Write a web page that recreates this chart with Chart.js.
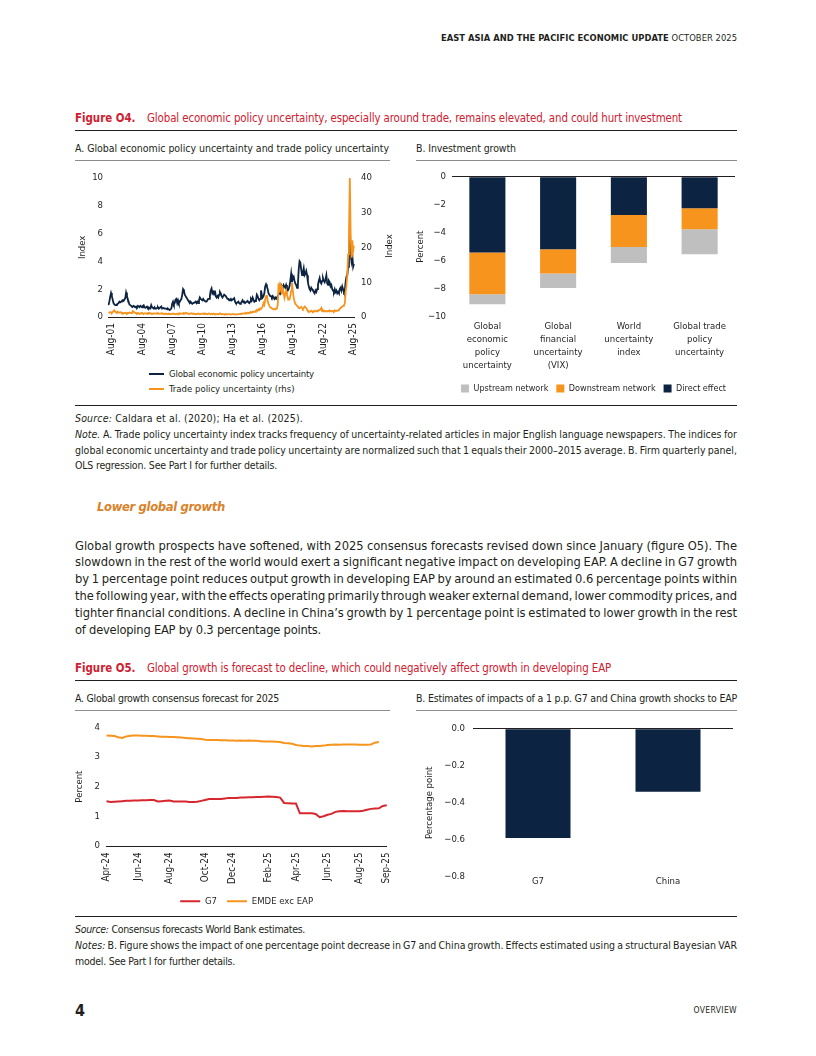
<!DOCTYPE html>
<html><head><meta charset="utf-8">
<script src="https://cdn.jsdelivr.net/npm/chart.js@4.4.1/dist/chart.umd.min.js"></script>
<style>
html,body{margin:0;padding:0;background:#fff;}
body{width:816px;height:1056px;position:relative;overflow:hidden;font-family:'DejaVu Sans Condensed','Liberation Sans',sans-serif;color:#231f20;}
.t{position:absolute;white-space:nowrap;}
.rule{position:absolute;left:75px;width:662px;height:1px;background:#231f20;}
.prule{position:absolute;height:1.5px;background:#8c8c8c;}
.red{color:#cf2030;}
.ft{font-size:11.4px;line-height:14px;}
.pt{font-size:10.5px;line-height:13px;}
.nt{font-size:10.5px;line-height:13px;}
.jl{position:absolute;left:75px;white-space:nowrap;}
.para{font-size:12.8px;line-height:16px;}
canvas{position:absolute;}
.lg{position:absolute;height:2px;width:15px;}
</style></head>
<body>
<div class="t" style="right:79px;top:32px;font-size:9.3px;line-height:12px;" data-w="296"><b>EAST ASIA AND THE PACIFIC ECONOMIC UPDATE</b> OCTOBER 2025</div>

<div class="t red ft" style="left:75px;top:111px;"><b>Figure O4.</b></div>
<div class="t red ft" style="left:147px;top:111px;" data-w="535">Global economic policy uncertainty, especially around trade, remains elevated, and could hurt investment</div>
<div class="rule" style="top:130px;"></div>
<div class="t pt" style="left:75px;top:141.5px;" data-w="314">A. Global economic policy uncertainty and trade policy uncertainty</div>
<div class="t pt" style="left:416px;top:141.5px;" data-w="100">B. Investment growth</div>
<div class="prule" style="left:75px;width:315px;top:159.5px;"></div>
<div class="prule" style="left:416px;width:321px;top:159.5px;"></div>

<canvas id="c1" width="330" height="195" style="left:75px;top:165px;"></canvas>
<div class="t" style="left:388px;top:246px;font-size:9.5px;line-height:11px;transform:translate(-50%,-50%) rotate(-90deg);">Index</div>
<div class="lg" style="left:149px;top:373px;background:#0c2341;"></div>
<div class="t" style="left:169px;top:368px;font-size:9.5px;line-height:12px;" data-w="145">Global economic policy uncertainty</div>
<div class="lg" style="left:149px;top:388px;background:#f7941d;"></div>
<div class="t" style="left:169px;top:383px;font-size:9.5px;line-height:12px;">Trade policy uncertainty (rhs)</div>

<canvas id="c2" width="335" height="238" style="left:405px;top:165px;"></canvas>

<div class="rule" style="top:405px;"></div>
<div class="t nt" style="left:75px;top:411.5px;" data-w="228"><i>Source:</i> Caldara et al. (2020); Ha et al. (2025).</div>
<div class="jl nt" style="top:427.5px;"><i>Note.</i> A. Trade policy uncertainty index tracks frequency of uncertainty-related articles in major English language newspapers. The indices for</div>
<div class="jl nt" style="top:443.5px;">global economic uncertainty and trade policy uncertainty are normalized such that 1 equals their 2000–2015 average. B. Firm quarterly panel,</div>
<div class="t nt" style="left:75px;top:459px;" data-w="202">OLS regression. See Part I for further details.</div>

<div class="t" style="left:97px;top:499px;font-size:12.9px;line-height:16px;font-weight:bold;font-style:italic;color:#d9822b;" data-w="124">Lower global growth</div>

<div class="jl para" style="top:537.5px;">Global growth prospects have softened, with 2025 consensus forecasts revised down since January (figure O5). The</div>
<div class="jl para" style="top:554px;">slowdown in the rest of the world would exert a significant negative impact on developing EAP. A decline in G7 growth</div>
<div class="jl para" style="top:571px;">by 1 percentage point reduces output growth in developing EAP by around an estimated 0.6 percentage points within</div>
<div class="jl para" style="top:588px;">the following year, with the effects operating primarily through weaker external demand, lower commodity prices, and</div>
<div class="jl para" style="top:605px;">tighter financial conditions. A decline in China’s growth by 1 percentage point is estimated to lower growth in the rest</div>
<div class="t para" style="left:75px;top:622px;" data-w="246">of developing EAP by 0.3 percentage points.</div>

<div class="t red ft" style="left:75px;top:661px;"><b>Figure O5.</b></div>
<div class="t red ft" style="left:147px;top:661px;" data-w="464">Global growth is forecast to decline, which could negatively affect growth in developing EAP</div>
<div class="rule" style="top:680px;"></div>
<div class="t pt" style="left:75px;top:691.5px;" data-w="204">A. Global growth consensus forecast for 2025</div>
<div class="t pt" style="left:416px;top:691.5px;" data-w="321">B. Estimates of impacts of a 1 p.p. G7 and China growth shocks to EAP</div>
<div class="prule" style="left:75px;width:315px;top:709.5px;"></div>
<div class="prule" style="left:416px;width:321px;top:709.5px;"></div>

<canvas id="c3" width="333" height="201" style="left:72px;top:715px;"></canvas>
<canvas id="c4" width="335" height="180" style="left:405px;top:715px;"></canvas>

<div class="rule" style="top:916px;"></div>
<div class="t nt" style="left:75px;top:922.5px;" data-w="230"><i>Source:</i> Consensus forecasts World Bank estimates.</div>
<div class="jl nt" style="top:938.5px;"><i>Notes:</i> B. Figure shows the impact of one percentage point decrease in G7 and China growth. Effects estimated using a structural Bayesian VAR</div>
<div class="t nt" style="left:75px;top:954.5px;" data-w="160">model. See Part I for further details.</div>

<div class="t" style="left:75px;top:1002px;font-size:16px;line-height:18px;font-weight:bold;">4</div>
<div class="t" style="right:79px;top:1004px;font-size:8.5px;line-height:12px;" data-w="44">OVERVIEW</div>

<script>
// ---------- Figure O4.A: monthly indices, Apr-2001 .. Sep-2025 ----------
const uncertaintyStart = { year: 2001, month: 4 };
const gepu = [
  0.85,1.1,1.45,1.72,1.5,1.25,1.0,0.9,0.85,
  0.85,0.9,0.95,1.0,1.1,1.05,1.1,1.15,1.2,1.15,1.25,1.35,
  1.75,1.5,1.3,1.1,0.9,0.85,0.8,0.75,0.75,0.8,0.75,0.7,
  0.75,0.7,0.8,0.75,0.7,0.8,0.75,0.7,0.8,0.85,0.7,0.65,
  0.7,0.75,0.65,0.7,0.6,0.6,0.85,0.7,0.65,0.6,0.7,0.6,
  0.6,0.65,0.7,0.6,0.65,0.7,0.75,0.6,0.6,0.65,0.6,0.6,
  0.6,0.55,0.6,0.55,0.5,0.55,0.6,0.95,1.1,0.9,1.0,1.25,
  1.3,1.0,1.2,1.0,1.1,1.2,1.3,1.6,2.0,1.9,1.6,1.5,
  1.4,1.3,1.2,1.1,1.0,1.1,1.0,0.95,1.0,1.0,1.05,1.1,
  1.0,1.1,1.0,1.2,1.4,1.3,1.25,1.2,1.3,1.2,1.2,1.1,
  1.1,1.2,1.3,1.3,1.5,1.9,2.05,1.7,1.8,1.6,1.9,1.5,
  1.4,1.5,1.4,1.6,1.8,1.7,1.5,1.4,1.5,1.6,1.6,1.5,
  1.4,1.3,1.3,1.2,1.25,1.3,1.2,1.25,1.3,1.35,1.1,1.0,
  1.0,1.05,1.1,1.0,0.95,1.0,1.1,1.2,1.05,1.1,1.0,1.0,
  1.1,1.15,1.05,1.0,1.1,1.3,1.2,1.4,1.25,1.1,1.15,1.2,
  1.6,1.5,1.3,1.2,1.3,1.9,1.6,1.4,1.5,1.7,2.2,2.35,
  2.2,2.0,1.7,1.6,1.5,1.5,1.4,1.5,1.4,1.3,1.4,1.3,
  1.4,1.5,1.6,1.8,1.7,2.0,2.2,2.1,2.3,2.2,2.1,2.3,
  2.1,1.9,2.0,2.2,2.6,3.1,2.5,2.8,2.9,2.6,2.4,2.3,
  2.1,2.3,3.4,4.0,3.9,3.4,3.0,3.2,3.5,3.0,3.1,3.3,
  3.0,2.5,2.2,2.0,1.9,2.1,2.0,1.9,1.8,1.7,1.9,1.8,
  2.0,2.3,2.6,2.8,2.5,2.4,2.6,2.8,2.6,2.5,2.7,3.0,
  2.4,2.3,2.6,2.5,2.2,2.3,2.0,1.9,1.8,2.0,1.8,1.9,
  1.7,1.8,1.7,2.0,2.1,1.9,2.2,2.0,1.8,1.9,2.5,2.9,
  3.0,3.6,4.6,5.9,4.5,4.0,4.4,3.6,3.8
];
const tpu = [
  1.3,1.2,1.4,1.3,1.2,1.5,1.6,1.9,1.5,
  1.4,1.3,1.5,1.3,1.2,1.4,1.3,1.1,1.2,1.0,1.1,1.2,
  1.1,1.0,1.2,1.1,1.3,1.2,1.1,1.2,1.7,1.5,1.3,1.2,
  1.1,1.0,1.2,1.0,0.9,1.1,1.0,1.2,1.0,0.9,1.0,1.1,
  1.0,0.9,1.1,1.2,1.0,1.1,0.9,1.0,1.0,0.9,1.1,1.0,
  0.9,1.0,1.1,1.0,0.9,1.0,1.1,0.9,1.0,0.9,0.8,1.0,
  0.9,0.8,0.9,1.0,0.8,0.9,0.8,0.9,1.0,0.9,0.8,0.9,
  0.8,0.9,1.0,0.9,1.1,1.0,0.9,1.0,0.9,1.1,1.0,1.2,
  1.1,1.0,1.0,0.9,0.9,1.0,1.1,0.9,1.0,0.9,0.8,0.9,
  0.8,0.9,1.0,0.9,0.8,0.9,0.9,1.0,0.9,0.8,1.0,0.9,
  0.9,0.8,0.9,1.0,0.9,0.8,0.9,0.8,1.0,0.9,0.8,0.9,
  0.8,0.9,0.8,0.9,1.0,0.9,0.8,0.9,0.8,0.7,0.8,0.9,
  0.8,0.7,0.8,0.9,0.8,0.7,0.8,0.9,0.8,0.7,0.8,0.8,
  0.7,0.8,0.9,0.8,0.8,0.9,1.0,0.9,1.0,1.1,1.0,1.1,
  1.0,1.2,1.1,1.3,1.2,1.4,1.3,1.5,1.4,1.6,1.5,1.8,
  2.0,1.8,2.2,2.0,2.5,2.4,2.6,3.0,4.0,3.5,5.0,6.0,
  6.3,4.5,3.8,3.2,2.8,2.6,2.5,2.3,2.2,2.3,2.2,2.4,
  2.5,3.5,9.7,7.0,9.5,9.0,6.5,8.0,7.0,5.5,6.5,7.5,
  6.5,5.5,5.0,5.0,6.0,7.5,9.8,7.5,5.5,4.5,3.8,3.5,
  3.2,3.0,2.6,2.5,2.7,2.9,2.6,2.3,2.6,3.0,2.8,2.6,
  2.0,1.7,1.6,1.5,1.6,1.8,1.6,1.5,1.7,1.6,1.8,1.7,
  1.6,1.9,2.0,2.0,2.2,2.6,1.7,1.9,1.6,1.8,1.7,1.6,
  1.7,1.6,1.8,1.9,1.7,1.6,1.8,1.7,1.6,1.9,1.7,1.8,
  1.8,1.9,2.1,2.3,2.6,2.8,3.0,3.2,3.4,3.8,7.0,9.0,
  12,18,24,40,24,17,22,19,20.5
];
const uncertaintyTicks = ['Aug-01','Aug-04','Aug-07','Aug-10','Aug-13','Aug-16','Aug-19','Aug-22','Aug-25'];

// ---------- Figure O4.B: investment growth ----------
const investCategories = [['Global','economic','policy','uncertainty'],['Global','financial','uncertainty','(VIX)'],['World','uncertainty','index'],['Global trade','policy','uncertainty']];
const directEffect = [-5.42,-5.19,-2.74,-2.26];
const downstreamNetwork = [-2.98,-1.74,-2.28,-1.49];
const upstreamNetwork = [-0.73,-1.04,-1.16,-1.79];

// ---------- Figure O5.A: consensus forecast for 2025 (weekly) ----------
const growthTickLabels = ['Apr-24','Jun-24','Aug-24','Oct-24','Dec-24','Feb-25','Apr-25','Jun-25','Aug-25','Sep-25'];
const growthTickIndex = [0,8,16,25,32,41,48,56,64,71];
const g7Forecast = [
  1.51,1.48,1.49,1.50,1.51,1.52,1.52,1.53,1.53,1.54,1.54,1.55,1.55,
  1.50,1.51,1.52,1.53,1.50,1.50,1.50,1.50,1.48,1.48,1.49,1.52,1.55,
  1.58,1.58,1.58,1.58,1.60,1.62,1.62,1.62,1.63,1.63,1.64,1.64,1.65,
  1.65,1.66,1.67,1.66,1.65,1.63,1.45,1.44,1.43,1.43,
  1.10,1.10,1.10,1.10,1.08,0.97,1.00,1.05,1.08,1.15,1.17,1.18,
  1.17,1.17,1.17,1.17,1.19,1.22,1.25,1.26,1.27,1.35,1.37
];
const emdeForecast = [
  3.72,3.71,3.70,3.66,3.64,3.69,3.71,3.72,3.72,3.71,
  3.71,3.70,3.70,3.69,3.68,3.68,3.67,3.67,3.66,3.65,
  3.64,3.63,3.62,3.61,3.60,3.58,3.57,3.57,3.57,3.56,
  3.56,3.55,3.55,3.54,3.55,3.54,3.55,3.54,3.54,3.53,
  3.52,3.52,3.52,3.51,3.50,3.47,3.46,3.44,3.40,3.38,
  3.37,3.37,3.35,3.37,3.37,3.38,3.40,3.41,3.42,3.41,
  3.42,3.42,3.42,3.42,3.41,3.41,3.41,3.42,3.48,3.50,
  null,null
];

// ---------- Figure O5.B: shock impacts ----------
const shockCategories = ['G7','China'];
const shockImpact = [-0.59,-0.34];

// ---------- styling ----------
const NAVY = '#0c2341', ORANGE = '#f7941d', GREY = '#bfbfbf', RED = '#d7262e', INK = '#231f20';
Chart.defaults.font.family = "'DejaVu Sans Condensed','Liberation Sans',sans-serif";
Chart.defaults.font.size = 9.5;
Chart.defaults.color = INK;

const monthNames = ['Jan','Feb','Mar','Apr','May','Jun','Jul','Aug','Sep','Oct','Nov','Dec'];
const uncertaintyMonths = gepu.map((_, i) => {
  const m = uncertaintyStart.month - 1 + i;
  const y = uncertaintyStart.year + Math.floor(m / 12);
  return monthNames[m % 12] + '-' + String(y % 100).padStart(2, '0');
});
const growthLabels = g7Forecast.map((_, i) => {
  const k = growthTickIndex.indexOf(i);
  return k >= 0 ? growthTickLabels[k] : '';
});
const minus = (v, d) => (Math.abs(v) < 1e-9 ? (0).toFixed(d) : '\u2212' + Math.abs(v).toFixed(d));
const zeroLine = c => (c.tick && Math.abs(c.tick.value) < 1e-9 ? INK : 'rgba(0,0,0,0)');
const base = { responsive: false, animation: false, events: [] };

// O4.A
new Chart(document.getElementById('c1'), {
  type: 'line',
  data: {
    labels: uncertaintyMonths,
    datasets: [
      { label: 'Global economic policy uncertainty', data: gepu, yAxisID: 'y', borderColor: NAVY, borderWidth: 1.8, pointRadius: 0, tension: 0, order: 1 },
      { label: 'Trade policy uncertainty (rhs)', data: tpu, yAxisID: 'y2', borderColor: ORANGE, borderWidth: 1.8, pointRadius: 0, tension: 0, order: 0 }
    ]
  },
  options: Object.assign({}, base, {
    layout: { padding: { top: 10, right: 0, left: 0, bottom: 0 } },
    plugins: { legend: { display: false }, tooltip: { enabled: false } },
    scales: {
      x: {
        grid: { display: false, drawTicks: false }, border: { display: true, color: INK, width: 1 },
        ticks: { autoSkip: false, maxRotation: 90, minRotation: 90, padding: 6, font: { size: 10 },
          callback(v) { const l = this.getLabelForValue(v); return uncertaintyTicks.includes(l) ? l : null; } },
        afterFit: s => { s.height = 43; }
      },
      y: {
        position: 'left', min: 0, max: 10,
        ticks: { stepSize: 2, padding: 5.5 }, grid: { display: false, drawTicks: false }, border: { display: false },
        title: { display: true, text: 'Index', font: { size: 9.5 }, padding: { top: 2.3, bottom: 0 } },
        afterFit: s => { s.width = 33.5; }
      },
      y2: {
        position: 'right', min: 0, max: 40,
        ticks: { stepSize: 10, padding: 7 }, grid: { display: false, drawTicks: false }, border: { display: false },
        afterFit: s => { s.width = 51; }
      }
    }
  })
});

// O4.B
new Chart(document.getElementById('c2'), {
  type: 'bar',
  data: {
    labels: investCategories,
    datasets: [
      { label: 'Direct effect', data: directEffect, backgroundColor: NAVY },
      { label: 'Downstream network', data: downstreamNetwork, backgroundColor: ORANGE },
      { label: 'Upstream network', data: upstreamNetwork, backgroundColor: GREY }
    ]
  },
  options: Object.assign({}, base, {
    layout: { padding: { top: 9.5, right: 5, left: 0, bottom: 0 } },
    datasets: { bar: { barPercentage: 0.51, categoryPercentage: 1, borderWidth: 0 } },
    plugins: {
      tooltip: { enabled: false },
      legend: { position: 'bottom', fullSize: false, reverse: true,
        labels: { boxWidth: 8, boxHeight: 8, padding: 8, font: { size: 9 }, color: INK } }
    },
    scales: {
      x: {
        stacked: true, grid: { display: false, drawTicks: false }, border: { display: false },
        ticks: { padding: 4, maxRotation: 0, autoSkip: false, font: { size: 9.5, lineHeight: 1.34 } },
        afterFit: s => { s.height = 59.5; }
      },
      y: {
        stacked: true, min: -10, max: 0,
        ticks: { stepSize: 2, padding: 6, callback: v => minus(v, 0) },
        grid: { drawTicks: false, color: zeroLine, lineWidth: 1 }, border: { display: false },
        title: { display: true, text: 'Percent', font: { size: 9.5 }, padding: { top: 10.3, bottom: 0 } },
        afterFit: s => { s.width = 47; }
      }
    }
  })
});

// O5.A
new Chart(document.getElementById('c3'), {
  type: 'line',
  data: {
    labels: growthLabels,
    datasets: [
      { label: 'G7', data: g7Forecast, borderColor: RED, backgroundColor: RED, borderWidth: 2, pointRadius: 0, tension: 0 },
      { label: 'EMDE exc EAP', data: emdeForecast, borderColor: ORANGE, backgroundColor: ORANGE, borderWidth: 2, pointRadius: 0, tension: 0 }
    ]
  },
  options: Object.assign({}, base, {
    layout: { padding: { top: 11, right: 18, left: 0, bottom: 0 } },
    plugins: {
      tooltip: { enabled: false },
      legend: { position: 'bottom', fullSize: false,
        labels: { usePointStyle: true, pointStyle: 'line', pointStyleWidth: 20, padding: 10, font: { size: 9.5 }, color: INK } }
    },
    scales: {
      x: {
        grid: { display: false, drawTicks: false }, border: { display: true, color: INK, width: 1 },
        ticks: { autoSkip: false, maxRotation: 90, minRotation: 90, padding: 6.5, font: { size: 9.8 },
          callback(v) { const l = this.getLabelForValue(v); return l ? l : null; } },
        afterFit: s => { s.height = 40.5; }
      },
      y: {
        min: 0, max: 4,
        ticks: { stepSize: 1, padding: 6.5 }, grid: { display: false, drawTicks: false }, border: { display: false },
        title: { display: true, text: 'Percent', font: { size: 9.5 }, padding: { top: 2.3, bottom: 0 } },
        afterFit: s => { s.width = 34.5; }
      }
    }
  })
});

// O5.B
new Chart(document.getElementById('c4'), {
  type: 'bar',
  data: {
    labels: shockCategories,
    datasets: [{ label: 'Impact on developing EAP', data: shockImpact, backgroundColor: NAVY, barPercentage: 0.5, categoryPercentage: 1, borderWidth: 0 }]
  },
  options: Object.assign({}, base, {
    layout: { padding: { top: 9, right: 7, left: 0, bottom: 0 } },
    plugins: { legend: { display: false }, tooltip: { enabled: false } },
    scales: {
      x: {
        grid: { display: false, drawTicks: false }, border: { display: false },
        ticks: { padding: -0.7 },
        afterFit: s => { s.height = 18; }
      },
      y: {
        min: -0.8, max: 0,
        ticks: { stepSize: 0.2, padding: 8, callback: v => minus(v, 1) },
        grid: { drawTicks: false, color: zeroLine, lineWidth: 1 }, border: { display: false },
        title: { display: true, text: 'Percentage point', font: { size: 9.5 }, padding: { top: 19.3, bottom: 0 } },
        afterFit: s => { s.width = 68; }
      }
    }
  })
});

// fit single-line headings to their measured widths (small letter-spacing tweak)
document.querySelectorAll('[data-w]').forEach(el => {
  const target = parseFloat(el.dataset.w);
  el.style.letterSpacing = '0px';
  const w = el.getBoundingClientRect().width;
  const n = el.textContent.length;
  const ls = Math.max(-0.35, Math.min(0.35, (target - w) / n));
  el.style.letterSpacing = ls.toFixed(3) + 'px';
});
// justify full-width text lines to 662px via word spacing
document.querySelectorAll('.jl').forEach(el => {
  el.style.wordSpacing = '0px';
  const w = el.getBoundingClientRect().width;
  const spaces = (el.textContent.match(/ /g) || []).length;
  el.style.wordSpacing = ((662 - w) / spaces).toFixed(3) + 'px';
});
</script>
</body></html>
